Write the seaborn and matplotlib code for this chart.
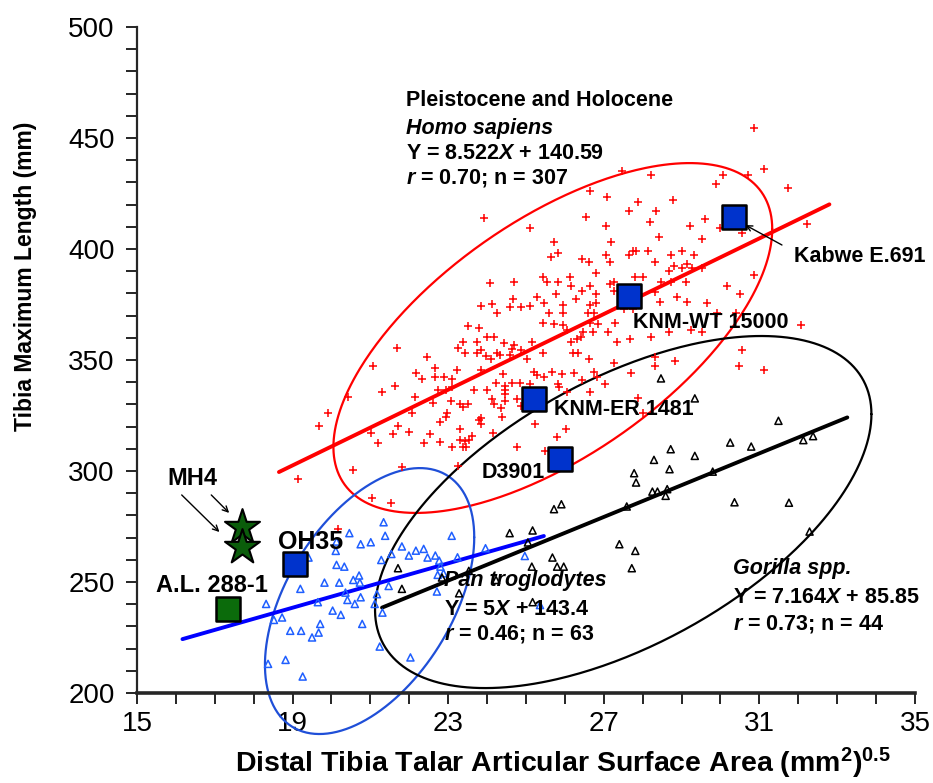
import numpy as np
import pandas as pd
import seaborn as sns
import matplotlib.pyplot as plt
from matplotlib.ticker import MultipleLocator

# Homo sapiens (red +)
homo_x = [30.85, 27.47, 28.21, 30.07, 30.70, 31.11, 29.89, 31.74, 26.64, 27.08, 27.87, 28.78, 27.64, 28.34,
          26.54, 28.19, 27.05, 29.21, 29.59, 29.98, 30.55, 29.53, 28.41, 27.19, 25.72, 25.82, 25.65, 26.44,
          26.61, 27.05, 27.15, 27.64, 27.75, 27.83, 28.13, 28.72, 29.00, 29.32, 28.32, 28.81, 29.02, 29.15,
          29.28, 28.68, 29.53, 26.79, 25.45, 25.82, 25.54, 26.13, 26.17, 26.64, 27.15, 27.25, 27.80, 28.02,
          28.47, 28.72, 29.11, 26.44, 25.77, 26.28, 26.79, 27.25, 28.31, 28.89, 29.15, 28.44, 29.66, 30.17,
          30.51, 30.85, 25.47, 25.96, 26.64, 26.79, 27.76, 27.51, 25.59, 25.96, 26.60, 26.74, 29.91, 30.41,
          32.23,
          25.45, 25.71, 25.94, 26.64, 26.85, 27.11, 27.28, 28.68, 29.23, 29.53, 26.05, 26.47, 26.71, 26.17,
          26.30, 26.41, 27.34, 27.68, 28.21, 25.45, 26.22, 26.33, 26.61, 27.25, 28.32, 28.83, 30.55, 30.48,
          31.11, 28.32, 27.70, 25.47, 25.68, 25.92, 26.24, 26.43, 26.74, 26.83, 27.02, 25.83, 25.86, 26.06,
          26.64, 27.87, 25.41, 26.03, 25.81, 25.49, 28.00, 32.08,
          23.84, 24.13, 24.26, 24.58, 24.86, 25.11, 23.51, 23.79, 24.01, 24.19, 24.43, 24.70, 25.16, 23.37,
          23.24, 23.44, 23.74, 23.75, 23.85, 23.96, 24.09, 24.26, 24.33, 24.59, 24.64, 24.87, 25.03, 21.69,
          22.45, 21.06, 22.65, 23.22, 23.85, 22.18, 22.33, 22.66, 22.90, 23.11, 24.41, 25.21, 25.28, 21.31,
          21.64, 22.14, 22.73, 22.94, 23.09, 23.67, 23.99, 24.22, 24.47, 24.64, 24.84, 25.11, 24.45, 24.47,
          20.42, 22.61, 23.07, 23.31, 23.39, 23.51, 24.13, 24.18, 24.45, 24.76, 24.86, 24.35, 19.91, 19.69,
          22.08, 22.96, 22.94, 22.80, 23.31, 23.78, 23.85, 23.84, 24.39, 21.71, 21.01, 21.58, 21.99, 22.52,
          24.15, 21.20, 22.39, 22.80, 23.11, 23.37, 23.43, 23.54, 23.62, 23.31, 23.45, 24.77, 25.24, 20.56,
          21.82, 23.24, 19.13,
          23.93, 25.10, 24.08, 24.69, 25.28, 24.67, 20.18, 21.05, 21.53]
homo_y = [454.3, 435.3, 433.3, 433.3, 433.3, 436.0, 429.3, 427.3, 426.3, 423.3, 421.3, 422.1, 417.3, 417.3,
          414.3, 412.3, 410.4, 410.4, 413.4, 409.3, 407.3, 404.3, 405.2, 403.3, 403.3, 398.3, 396.2, 395.3,
          394.3, 397.3, 394.3, 397.3, 399.2, 399.2, 399.2, 397.3, 399.2, 397.3, 394.3, 392.3, 391.3, 393.2,
          391.3, 390.2, 391.3, 389.3, 387.5, 385.3, 385.3, 387.5, 383.3, 383.3, 384.2, 385.3, 387.5, 387.5,
          385.3, 385.3, 385.3, 381.2, 379.7, 377.3, 379.7, 381.2, 380.8, 378.2, 376.3, 376.3, 375.5, 383.3,
          379.7, 388.3, 375.5, 374.8, 374.8, 375.5, 373.0, 373.0, 371.3, 371.3, 371.3, 371.3, 371.3, 371.0,
          411.1,
          366.5, 366.2, 365.7, 366.5, 366.2, 362.7, 366.5, 362.4, 363.5, 362.4, 363.5, 362.4, 362.4, 358.2,
          359.3, 360.5, 358.2, 359.3, 360.5, 353.3, 353.3, 353.3, 350.3, 348.5, 351.5, 349.5, 354.5, 347.3,
          345.5, 347.3, 344.3, 342.5, 344.7, 343.7, 344.3, 341.0, 344.7, 342.5, 339.2, 339.2, 337.7, 335.4,
          335.7, 332.7, 332.0, 318.7, 315.4, 309.1, 326.2, 365.7,
          374.3, 375.2, 371.3, 373.7, 373.7, 374.3, 365.3, 364.2, 360.5, 360.5, 357.5, 356.7, 358.2, 358.2,
          355.2, 353.3, 358.2, 353.3, 354.5, 351.8, 350.3, 353.3, 352.2, 352.2, 354.8, 354.5, 350.3, 355.2,
          351.5, 347.4, 346.2, 345.5, 345.5, 344.3, 341.3, 342.2, 342.2, 341.3, 343.7, 344.7, 343.2, 335.4,
          338.4, 333.5, 336.5, 336.5, 337.7, 336.5, 336.5, 339.5, 338.3, 339.5, 339.5, 339.2, 336.5, 334.7,
          333.2, 330.5, 331.7, 330.2, 328.7, 330.2, 332.3, 330.2, 331.7, 332.3, 329.3, 328.2, 326.2, 320.2,
          326.2, 326.2, 324.1, 322.2, 318.7, 322.9, 323.7, 321.1, 324.4, 320.2, 316.9, 316.5, 317.4, 316.5,
          317.2, 312.4, 312.4, 313.2, 310.6, 310.6, 313.6, 313.9, 315.7, 313.9, 310.9, 310.6, 321.1, 300.4,
          301.6, 302.4, 296.4,
          414.0, 409.5, 384.7, 385.1, 378.4, 377.5, 273.9, 287.8, 285.6]

# Pan troglodytes (blue triangles)
pan_x = [21.34, 20.46, 21.38, 20.75, 21.01, 20.13, 20.11, 19.41, 21.81, 22.17, 22.37, 21.99, 22.47, 22.67,
         22.77, 23.09, 23.24, 23.96, 21.28, 21.54, 20.13, 20.33, 22.80, 22.73, 22.88, 20.56, 20.71, 20.73,
         19.82, 20.20, 19.20, 20.36, 21.17, 21.47, 22.71, 20.41, 20.60, 20.75, 21.11, 18.32, 19.65, 20.03,
         20.24, 21.31, 18.52, 18.73, 19.71, 18.94, 19.22, 19.67, 19.50, 20.79, 21.24, 22.03, 18.82, 18.37,
         19.26, 24.97, 25.36]
pan_y = [276.9, 272.0, 270.8, 267.0, 267.9, 268.2, 264.0, 261.0, 266.0, 264.1, 264.9, 261.9, 261.0, 261.9,
         259.6, 270.8, 261.1, 265.2, 259.9, 262.6, 257.7, 256.9, 256.9, 253.2, 253.9, 250.9, 252.9, 249.7,
         249.7, 249.7, 246.9, 245.2, 244.5, 248.2, 245.7, 241.9, 240.1, 243.1, 240.1, 240.1, 240.9, 237.1,
         235.2, 236.2, 232.9, 234.0, 231.1, 228.0, 228.0, 227.2, 225.0, 231.1, 220.9, 216.0, 214.9, 213.1,
         207.4, 261.7, 239.6]

# Gorilla spp. (black triangles)
gor_x = [30.25, 30.79, 28.72, 29.34, 28.29, 28.69, 27.78, 27.83, 28.25, 28.38, 28.63, 28.59, 29.80, 30.36,
         27.59, 25.72, 25.91, 24.58, 25.17, 25.05, 27.40, 27.81, 25.68, 25.15, 25.80, 25.97, 27.72, 24.23,
         23.53, 25.17, 28.47, 29.34, 31.49, 32.13, 32.38, 31.76, 32.29, 21.71, 21.81, 22.84, 23.28]
gor_y = [312.8, 311.0, 309.8, 306.8, 305.0, 300.8, 299.0, 294.8, 290.7, 290.7, 291.8, 288.8, 299.7, 285.9,
         284.0, 282.8, 285.0, 272.0, 273.2, 267.8, 267.0, 264.0, 261.0, 256.9, 256.9, 256.9, 256.2, 250.9,
         255.0, 240.9, 341.7, 332.7, 322.6, 313.9, 315.7, 285.7, 272.7, 256.2, 246.9, 252.0, 244.9]

# fossil hominins
fossil_names = ['Kabwe E.691', 'KNM-WT 15000', 'KNM-ER 1481', 'D3901', 'OH35']
fossil_x = [30.36, 27.65, 25.20, 25.87, 19.06]
fossil_y = [414.4, 378.8, 332.4, 305.4, 258.1]
mh4_x = [17.70, 17.70]
mh4_y = [274.8, 265.8]
al288_x = [17.35]
al288_y = [237.8]

# least-squares lines (slope, intercept, x range)
fit_slope = [8.522, 5.0, 7.164]
fit_icpt = [140.59, 143.4, 85.85]
fit_x0 = [18.65, 16.17, 21.30]
fit_x1 = [32.80, 25.46, 33.26]

# ellipses: centre, half ranges, cos of phase shift
ell_cx = [25.69, 20.98, 27.50]
ell_cy = [359.9, 241.4, 281.5]
ell_rx = [5.64, 2.69, 6.38]
ell_ry = [78.8, 59.9, 79.3]
ell_cos = [0.623, 0.48, 0.556]

sns.set_style("ticks")
plt.rcParams['font.family'] = ['Liberation Sans', 'DejaVu Sans']
plt.rcParams['text.color'] = 'black'
plt.rcParams['axes.labelcolor'] = 'black'
plt.rcParams['xtick.color'] = 'black'
plt.rcParams['ytick.color'] = 'black'
plt.rcParams['mathtext.fontset'] = 'custom'
plt.rcParams['mathtext.rm'] = 'Liberation Sans:bold'
plt.rcParams['mathtext.it'] = 'Liberation Sans:italic:bold'
plt.rcParams['mathtext.bf'] = 'Liberation Sans:bold'

fig, ax = plt.subplots(figsize=(9.33, 7.83), dpi=100)
fig.subplots_adjust(left=0.1468, right=0.9807, bottom=0.115, top=0.9655)

line_cols = ['#ff0000', '#0000ff', '#000000']
ell_cols = ['#ff0000', '#1f4fd8', '#000000']
t = np.linspace(0, 2 * np.pi, 400)
for i in range(3):
    phi = np.arccos(ell_cos[i])
    ex = ell_cx[i] + ell_rx[i] * np.cos(t)
    ey = ell_cy[i] + ell_ry[i] * np.cos(t - phi)
    ax.plot(ex, ey, color=ell_cols[i], lw=1.6, clip_on=False, zorder=2)
    lx = np.array([fit_x0[i], fit_x1[i]])
    ax.plot(lx, fit_slope[i] * lx + fit_icpt[i], color=line_cols[i], lw=2.8, zorder=3)

sns.scatterplot(x=homo_x, y=homo_y, marker='+', s=32, color='#ff0000', linewidth=1.1, ax=ax, zorder=4)
sns.scatterplot(x=pan_x, y=pan_y, marker='^', s=26, facecolor='none', edgecolor='#1f5fff',
                linewidth=1.1, ax=ax, zorder=4)
sns.scatterplot(x=gor_x, y=gor_y, marker='^', s=26, facecolor='none', edgecolor='#000000',
                linewidth=1.1, ax=ax, zorder=4)

sns.scatterplot(x=fossil_x, y=fossil_y, marker='s', s=300, color='#0033cc', edgecolor='black',
                linewidth=1.8, ax=ax, zorder=6)
sns.scatterplot(x=mh4_x, y=mh4_y, marker='*', s=700, color='#0b5d0b', edgecolor='black',
                linewidth=1.5, ax=ax, zorder=6)
sns.scatterplot(x=al288_x, y=al288_y, marker='s', s=280, color='#0b6b0b', edgecolor='black',
                linewidth=1.8, ax=ax, zorder=6)

fs = 15.5
bold = dict(fontsize=fs, fontweight='bold', va='center', ha='left', zorder=7)
ax.text(31.89, 396.8, 'Kabwe E.691', **bold)
ax.text(27.76, 366.7, 'KNM-WT 15000', **bold)
ax.text(25.71, 327.5, 'KNM-ER 1481', **bold)
ax.text(23.85, 299.5, 'D3901', **bold)
ax.text(18.62, 268.0, 'OH35', fontsize=18, fontweight='bold', va='center', ha='left', zorder=7)
ax.text(15.48, 248.6, 'A.L. 288-1', fontsize=17, fontweight='bold', va='center', ha='left', zorder=7)
ax.text(15.77, 296.4, 'MH4', fontsize=17, fontweight='bold', va='center', ha='left', zorder=7)

arrow = dict(arrowstyle='->', color='black', lw=1.0, shrinkA=0, shrinkB=0)
ax.annotate('', xy=(17.12, 272.5), xytext=(16.15, 289.2), arrowprops=arrow)
ax.annotate('', xy=(17.37, 281.1), xytext=(16.91, 289.2), arrowprops=arrow)
ax.annotate('', xy=(30.64, 410.8), xytext=(31.58, 401.8), arrowprops=arrow)

ax.text(21.91, 466.7, 'Pleistocene and Holocene', **bold)
ax.text(21.91, 454.5, 'Homo sapiens', fontstyle='italic', **bold)
ax.text(21.91, 443.2, r'Y = 8.522$\mathit{X}$ + 140.59', **bold)
ax.text(21.91, 432.0, r'$\mathit{r}$ = 0.70; n = 307', **bold)

ax.text(22.88, 250.5, 'Pan troglodytes', fontstyle='italic', **bold)
ax.text(22.88, 237.8, r'Y = 5$\mathit{X}$ + 143.4', **bold)
ax.text(22.88, 226.6, r'$\mathit{r}$ = 0.46; n = 63', **bold)

ax.text(30.31, 255.9, 'Gorilla spp.', fontstyle='italic', **bold)
ax.text(30.31, 242.8, r'Y = 7.164$\mathit{X}$ + 85.85', **bold)
ax.text(30.31, 231.1, r'$\mathit{r}$ = 0.73; n = 44', **bold)

ax.set_xlim(15, 35)
ax.set_ylim(200, 500)
ax.set_xticks(range(15, 36, 4))
ax.set_yticks(range(200, 501, 50))
ax.xaxis.set_minor_locator(MultipleLocator(1))
ax.yaxis.set_minor_locator(MultipleLocator(10))
ax.tick_params(which='both', direction='out', length=8, width=1.2, labelsize=20)
ax.tick_params(axis='x', pad=5)
ax.tick_params(axis='y', pad=8)
sns.despine(ax=ax)
ax.spines['left'].set_linewidth(1.6)
ax.spines['bottom'].set_linewidth(2.6)
ax.set_xlabel(r'Distal Tibia Talar Articular Surface Area (mm$^{\mathrm{2}}$)$^{\mathrm{0.5}}$',
              fontsize=20.5, fontweight='bold')
ax.set_ylabel('Tibia Maximum Length (mm)', fontsize=16.5, fontweight='bold')
ax.xaxis.set_label_coords(0.548, -0.08)
ax.yaxis.set_label_coords(-0.128, 0.626)

fig.savefig('out.png', dpi=100)
